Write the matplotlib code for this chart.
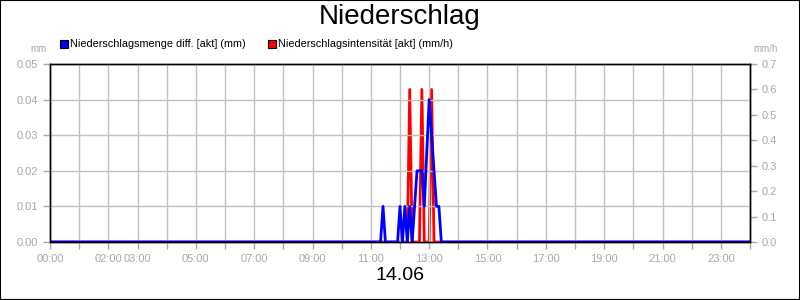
import numpy as np
import matplotlib.pyplot as plt
from matplotlib.patches import Rectangle

plt.rcParams['font.family'] = ['Liberation Sans', 'DejaVu Sans']

# data
menge_times = ["00:00", "11:20", "11:25", "11:30", "11:55", "12:00", "12:05", "12:10",
               "12:15", "12:20", "12:25", "12:30", "12:35", "12:40", "12:45", "12:50",
               "13:00", "13:15", "13:20", "13:25", "24:00"]
menge_mm = [0, 0, 0.01, 0, 0, 0.01, 0, 0.01,
            0, 0.01, 0, 0.01, 0.02, 0.02, 0.02, 0.01,
            0.04, 0.01, 0.01, 0, 0]
int_times = ["00:00", "12:15", "12:20", "12:25", "12:40", "12:45", "12:50",
             "13:00", "13:05", "13:10", "24:00"]
int_mmh = [0, 0, 0.6, 0, 0, 0.6, 0, 0, 0.6, 0, 0]
tick_labels = {0: "00:00", 2: "02:00", 3: "03:00", 5: "05:00", 7: "07:00", 9: "09:00",
               11: "11:00", 13: "13:00", 15: "15:00", 17: "17:00", 19: "19:00",
               21: "21:00", 23: "23:00"}

def to_h(ts):
    return np.array([int(t[:2]) + int(t[3:]) / 60 for t in ts])

grey = "#a8a8a8"
fig = plt.figure(figsize=(8, 3), dpi=100)
fig.patches.append(Rectangle((0, 0), 1, 1, transform=fig.transFigure,
                             fill=False, edgecolor="black", linewidth=1.5))
ax = fig.add_axes([50 / 800, 58 / 300, 700 / 800, 178 / 300])
ax2 = ax.twinx()
ax.set_zorder(ax2.get_zorder() + 1)
ax.patch.set_visible(False)

ax2.plot(to_h(int_times), int_mmh, color="#ff0000", lw=2)
ax.plot(to_h(menge_times), menge_mm, color="#0000ff", lw=2)

ax.set_xlim(0, 24)
ax.set_ylim(0, 0.05)
ax2.set_ylim(0, 0.7)
ax.set_xticks(range(25))
ax.set_xticklabels([tick_labels.get(h, "") for h in range(25)])
ax.set_yticks(np.linspace(0, 0.05, 6))
ax.set_yticklabels(["%.2f" % v for v in np.linspace(0, 0.05, 6)])
ax2.set_yticks(np.linspace(0, 0.7, 8))
ax2.set_yticklabels(["%.1f" % v for v in np.linspace(0, 0.7, 8)])
ax.grid(True, color="#c0c0c0", lw=1)
for a in (ax, ax2):
    a.tick_params(colors=grey, labelcolor=grey, labelsize=8, length=5, width=1)
    for s in a.spines.values():
        s.set_color("black")
        s.set_linewidth(1)

fig.text(0.5, 1 - 17 / 300, "Niederschlag", ha="center", va="center", fontsize=20)
fig.text(0.5, 1 - 276 / 300, "14.06", ha="center", va="center", fontsize=14)
fig.text(47 / 800, 1 - 49 / 300, "mm", ha="right", va="center", fontsize=7, color=grey)
fig.text(753 / 800, 1 - 49 / 300, "mm/h", ha="left", va="center", fontsize=7, color=grey)

for x0, col, lab in [(60, "#0000ff", "Niederschlagsmenge diff. [akt] (mm)"),
                     (268, "#ff0000", "Niederschlagsintensität [akt] (mm/h)")]:
    fig.patches.append(Rectangle((x0 / 800, 1 - 48 / 300), 8 / 800, 8 / 300,
                                 transform=fig.transFigure, facecolor=col,
                                 edgecolor="black", linewidth=0.8))
    fig.text((x0 + 10) / 800, 1 - 44 / 300, lab, ha="left", va="center", fontsize=7.8)

plt.savefig("out.png", dpi=100)
